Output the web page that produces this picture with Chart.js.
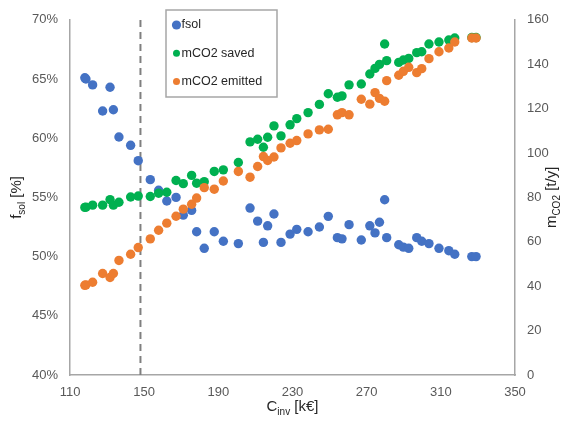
<!DOCTYPE html>
<html>
<head>
<meta charset="utf-8">
<title>fsol and mCO2 vs Cinv</title>
<script src="https://cdn.jsdelivr.net/npm/chart.js@4.4.1/dist/chart.umd.min.js"></script>
<style>
    html, body { margin: 0; padding: 0; background: #ffffff; }
    #wrap { width: 571px; height: 421px; }
</style>
</head>
<body>
<div id="wrap"><canvas id="chart" width="571" height="421"></canvas></div>
<script>
/* ===============================
   DATA
=============================== */

const cInv = [
    118.0, 118.6, 122.2, 127.6, 131.6, 133.4, 136.4, 142.7, 146.8, 153.3,
    157.8, 162.2, 167.2, 171.1, 175.6, 178.3, 182.4, 187.8, 192.7, 200.8,
    207.1, 211.2, 214.3, 216.6, 220.0, 223.8, 228.7, 232.3, 238.4, 244.5,
    249.3, 254.2, 256.7, 260.5, 267.1, 271.7, 274.5, 276.9, 279.7, 280.8,
    287.3, 289.8, 292.7, 297.0, 299.7, 303.6, 309.0, 314.3, 317.5, 326.7,
    329.0
];

const fSol = [
    65.1, 65.0, 64.5, 62.3, 64.3, 62.4, 60.1, 59.4, 58.1, 56.5,
    55.6, 54.7, 55.0, 53.5, 53.9, 52.1, 50.7, 52.1, 51.3, 51.1,
    54.1, 53.0, 51.2, 52.6, 53.6, 51.2, 51.9, 52.3, 52.1, 52.5,
    53.4, 51.6, 51.5, 52.7, 51.4, 52.6, 52.0, 52.9, 54.8, 51.6,
    51.0, 50.8, 50.7, 51.6, 51.3, 51.1, 50.7, 50.5, 50.2, 50.0,
    50.0
];

const co2Saved = [
    75.5, 75.6, 76.5, 76.5, 79.0, 76.5, 77.8, 80.2, 80.6, 80.4,
    81.9, 82.3, 87.6, 86.2, 89.9, 86.4, 87.1, 91.7, 92.4, 95.7,
    105.0, 106.2, 102.6, 107.1, 112.2, 107.7, 112.7, 115.5, 118.2, 121.9,
    126.7, 125.1, 125.7, 130.7, 131.1, 135.6, 138.1, 139.9, 149.1, 141.6,
    140.8, 141.9, 142.6, 145.2, 145.6, 149.1, 150.0, 150.9, 151.8, 152.0,
    152.0
];

const co2Emitted = [
    40.4, 40.6, 41.8, 45.7, 43.9, 45.7, 51.6, 54.4, 57.4, 61.3,
    65.2, 68.4, 71.5, 74.7, 76.9, 79.7, 84.4, 83.7, 87.4, 91.7,
    89.1, 93.9, 98.4, 96.6, 98.2, 102.3, 104.4, 105.6, 108.6, 110.4,
    110.7, 117.2, 118.2, 117.2, 124.2, 122.0, 127.2, 124.6, 123.3, 132.6,
    135.0, 136.8, 138.6, 136.2, 138.0, 142.5, 145.6, 147.3, 150.0, 151.8,
    151.8
];

const refLineX = [148];

const xTicks = [110, 150, 190, 230, 270, 310, 350];
const leftTicks = [40, 45, 50, 55, 60, 65, 70];
const rightTicks = [0, 20, 40, 60, 80, 100, 120, 140, 160];

const seriesNames = ["fsol", "mCO2 saved", "mCO2 emitted"];

/* ===============================
   HELPERS
=============================== */

function toPoints(xs, ys) {
    return xs.map((x, i) => ({ x: x, y: ys[i] }));
}

const FONT = "'Liberation Sans', Arial, sans-serif";
const TICK_COLOR = "#595959";
const AXIS_COLOR = "#a6a6a6";

// text with subscript parts, centred on (x, y), optionally rotated
function drawRich(ctx, parts, x, y, angle) {
    ctx.save();
    ctx.translate(x, y);
    ctx.rotate(angle || 0);
    let total = 0;
    parts.forEach(p => {
        ctx.font = (p.sub ? "10px " : "15px ") + FONT;
        p.w = ctx.measureText(p.t).width;
        total += p.w;
    });
    let cx = -total / 2;
    ctx.fillStyle = "#262626";
    ctx.textBaseline = "middle";
    ctx.textAlign = "left";
    parts.forEach(p => {
        ctx.font = (p.sub ? "10px " : "15px ") + FONT;
        ctx.fillText(p.t, cx, p.sub ? 5 : 0);
        cx += p.w;
    });
    ctx.restore();
}

/* ===============================
   PLUGINS: axis titles + legend
=============================== */

const titlesPlugin = {
    id: "richTitles",
    afterDraw(chart) {
        const ctx = chart.ctx;
        const area = chart.chartArea;
        const midY = (area.top + area.bottom) / 2;

        drawRich(ctx, [
            { t: "f" }, { t: "sol", sub: true }, { t: " [%]" }
        ], 17, midY, -Math.PI / 2);

        drawRich(ctx, [
            { t: "m" }, { t: "CO2", sub: true }, { t: " [t/y]" }
        ], 552, midY, -Math.PI / 2);

        drawRich(ctx, [
            { t: "C" }, { t: "inv", sub: true }, { t: " [k€]" }
        ], (area.left + area.right) / 2, 407, 0);
    }
};

const legendPlugin = {
    id: "boxLegend",
    afterDraw(chart) {
        const ctx = chart.ctx;
        const box = { x: 166, y: 10, w: 111, h: 87 };
        const radii = [4.6, 3.5, 3.5];

        ctx.save();
        ctx.fillStyle = "#ffffff";
        ctx.fillRect(box.x, box.y, box.w, box.h);
        ctx.strokeStyle = "#a6a6a6";
        ctx.lineWidth = 1.5;
        ctx.strokeRect(box.x, box.y, box.w, box.h);

        ctx.font = "12.5px " + FONT;
        ctx.textBaseline = "middle";
        ctx.textAlign = "left";

        seriesNames.forEach((name, i) => {
            const ds = chart.data.datasets[i];
            const cy = 25 + i * 28.3;
            ctx.beginPath();
            ctx.arc(176.5, cy, radii[i], 0, Math.PI * 2);
            ctx.fillStyle = ds.backgroundColor;
            ctx.fill();
            ctx.fillStyle = "#262626";
            ctx.fillText(ds.label, 181.5, cy);
        });
        ctx.restore();
    }
};

/* ===============================
   CHART
=============================== */

const canvas = document.getElementById("chart");

const pointStyle = {
    type: "scatter",
    pointRadius: 4.7,
    pointHoverRadius: 4.7,
    pointBorderWidth: 0,
    showLine: false
};

new Chart(canvas, {

    type: "scatter",

    data: {
        datasets: [
            Object.assign({}, pointStyle, {
                label: seriesNames[0],
                data: toPoints(cInv, fSol),
                backgroundColor: "#4472c4",
                borderColor: "#4472c4",
                yAxisID: "y",
                order: 3
            }),
            Object.assign({}, pointStyle, {
                label: seriesNames[1],
                data: toPoints(cInv, co2Saved),
                backgroundColor: "#00b050",
                borderColor: "#00b050",
                yAxisID: "y2",
                order: 2
            }),
            Object.assign({}, pointStyle, {
                label: seriesNames[2],
                data: toPoints(cInv, co2Emitted),
                backgroundColor: "#ed7d31",
                borderColor: "#ed7d31",
                yAxisID: "y2",
                order: 1
            }),
            {
                type: "line",
                label: "ref",
                data: [
                    { x: refLineX[0], y: leftTicks[0] },
                    { x: refLineX[0], y: leftTicks[leftTicks.length - 1] }
                ],
                borderColor: "#7f7f7f",
                borderWidth: 2,
                borderDash: [7, 5],
                pointRadius: 0,
                fill: false,
                yAxisID: "y",
                order: 10
            }
        ]
    },

    options: {
        responsive: false,
        animation: false,
        devicePixelRatio: 1,
        layout: {
            padding: { top: 19, left: 0, right: 0, bottom: 0 }
        },
        plugins: {
            legend: { display: false },
            tooltip: { enabled: false }
        },
        scales: {
            x: {
                type: "linear",
                min: xTicks[0],
                max: xTicks[xTicks.length - 1],
                afterBuildTicks: s => { s.ticks = xTicks.map(v => ({ value: v })); },
                afterFit: s => { s.height = 46; },
                grid: { display: false, drawTicks: false },
                border: { display: true, color: AXIS_COLOR, width: 1.5 },
                ticks: {
                    color: TICK_COLOR,
                    font: { family: FONT, size: 13 },
                    padding: 10,
                    maxRotation: 0
                }
            },
            y: {
                type: "linear",
                position: "left",
                min: leftTicks[0],
                max: leftTicks[leftTicks.length - 1],
                afterBuildTicks: s => { s.ticks = leftTicks.map(v => ({ value: v })); },
                afterFit: s => { s.width = 70; },
                grid: { display: false, drawTicks: false },
                border: { display: true, color: AXIS_COLOR, width: 1.5 },
                ticks: {
                    color: TICK_COLOR,
                    font: { family: FONT, size: 13 },
                    padding: 12,
                    callback: v => v + "%"
                }
            },
            y2: {
                type: "linear",
                position: "right",
                min: rightTicks[0],
                max: rightTicks[rightTicks.length - 1],
                afterBuildTicks: s => { s.ticks = rightTicks.map(v => ({ value: v })); },
                afterFit: s => { s.width = 56; },
                grid: { display: false, drawTicks: false },
                border: { display: true, color: AXIS_COLOR, width: 1.5 },
                ticks: {
                    color: TICK_COLOR,
                    font: { family: FONT, size: 13 },
                    padding: 12
                }
            }
        }
    },

    plugins: [titlesPlugin, legendPlugin]

});
</script>
</body>
</html>
